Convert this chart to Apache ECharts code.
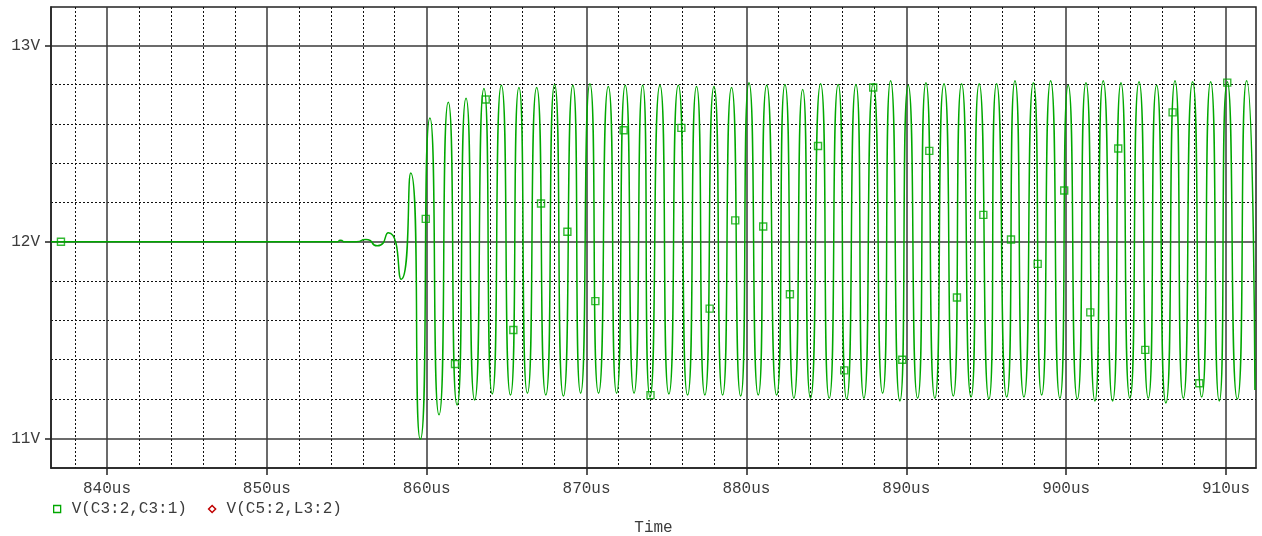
<!DOCTYPE html>
<html>
<head>
<meta charset="utf-8">
<title>V(C3:2,C3:1) transient</title>
<script src="https://cdn.jsdelivr.net/npm/echarts@6/dist/echarts.min.js"></script>
<style>
  html, body { margin: 0; padding: 0; background: #fff; }
  #chart { width: 1262px; height: 536px; }
</style>
</head>
<body>
<div id="chart"></div>
<script>
// time axis (us) and voltage axis (V)
const xTicks = [840, 850, 860, 870, 880, 890, 900, 910]
const yTicks = [11, 12, 13]

// V(C3:2,C3:1): peaks / troughs, [time us, volts]
const traceC3 = [
  [836.5, 12.0], [854.4, 12.0], [854.6, 12.008], [854.9, 12.0], [855.6, 12.0],
  [856.2, 12.012], [856.9, 11.98], [857.6, 12.046], [858.4, 11.81], [859.0, 12.35],
  [859.6, 10.995], [860.2, 12.63], [860.77, 11.12], [861.35, 12.71], [861.9, 11.17],
  [862.46, 12.73], [863.0, 11.195], [863.58, 12.78], [864.1, 11.226], [864.67, 12.797],
  [865.24, 11.22], [865.77, 12.785], [866.3, 11.23], [866.88, 12.785], [867.45, 11.22],
  [868.0, 12.8], [868.55, 11.215], [869.14, 12.797], [869.63, 11.23], [870.21, 12.805],
  [870.75, 11.23], [871.36, 12.79], [871.88, 11.23], [872.42, 12.797], [872.97, 11.23],
  [873.51, 12.797], [873.97, 11.21], [874.59, 12.797], [875.15, 11.226], [875.74, 12.797],
  [876.32, 11.22], [876.88, 12.79], [877.4, 11.22], [877.97, 12.79], [878.51, 11.22],
  [879.07, 12.785], [879.64, 11.215], [880.16, 12.81], [880.74, 11.22], [881.27, 12.797],
  [881.89, 11.22], [882.41, 12.8], [882.97, 11.204], [883.52, 12.775], [884.01, 11.204],
  [884.64, 12.805], [885.18, 11.204], [885.74, 12.8], [886.27, 11.2], [886.85, 12.8],
  [887.35, 11.204], [887.93, 12.805], [888.52, 11.23], [889.02, 12.82], [889.6, 11.19],
  [890.12, 12.797], [890.71, 11.204], [891.23, 12.81], [891.79, 11.204], [892.36, 12.805],
  [892.94, 11.215], [893.46, 12.805], [894.05, 11.21], [894.56, 12.805], [895.17, 11.2],
  [895.65, 12.805], [896.28, 11.21], [896.8, 12.82], [897.36, 11.21], [897.95, 12.81],
  [898.47, 11.22], [899.03, 12.82], [899.61, 11.204], [900.13, 12.797], [900.7, 11.2],
  [901.24, 12.81], [901.8, 11.19], [902.32, 12.82], [902.91, 11.19], [903.43, 12.81],
  [903.99, 11.204], [904.56, 12.815], [905.14, 11.204], [905.66, 12.797], [906.24, 11.18],
  [906.81, 12.82], [907.33, 11.204], [907.91, 12.815], [908.48, 11.21], [909.04, 12.815],
  [909.58, 11.19], [910.08, 12.815], [910.71, 11.2], [911.29, 12.82], [911.81, 11.246]
]

// square markers PSpice draws along the same trace
const markersC3 = [
  [837.12, 12.0], [859.94, 12.117], [861.77, 11.378], [863.69, 12.724], [865.42, 11.551],
  [867.15, 12.195], [868.8, 12.051], [870.55, 11.698], [872.32, 12.568], [874.0, 11.22],
  [875.93, 12.58], [877.7, 11.66], [879.3, 12.109], [881.05, 12.078], [882.72, 11.733],
  [884.48, 12.488], [886.12, 11.346], [887.93, 12.785], [889.75, 11.4], [891.44, 12.463],
  [893.17, 11.717], [894.82, 12.137], [896.55, 12.012], [898.22, 11.888], [899.88, 12.261],
  [901.51, 11.641], [903.26, 12.475], [904.95, 11.45], [906.66, 12.659], [908.33, 11.28],
  [910.08, 12.81]
]

// V(C5:2,L3:2) is off-scale here, only its legend entry shows
const traceC5 = []

const green = '#00a800'
const red = '#c00000'
const font = "'Liberation Mono', 'DejaVu Sans Mono', monospace"
const textColor = '#3c3c3c'
const fontSize = 16

const chart = echarts.init(document.getElementById('chart'))

chart.setOption({
  animation: false,
  backgroundColor: '#fff',
  grid: {
    left: 51, right: 6, top: 7, bottom: 68,
    outerBoundsMode: 'none',
    show: true,
    borderColor: '#222',
    borderWidth: 1.5,
    backgroundColor: 'transparent',
  },
  legend: {
    left: 48,
    top: 496,
    itemGap: 21,
    itemWidth: 19,
    itemHeight: 7,
    selectedMode: false,
    textStyle: { fontFamily: font, fontSize: fontSize, color: textColor },
    data: [
      {
        name: 'V(C3:2,C3:1)',
        icon: 'path://M0,0L10,0L10,10L0,10Z',
        itemStyle: { color: '#fff', borderColor: green, borderWidth: 1.3 },
      },
      {
        name: 'V(C5:2,L3:2)',
        icon: 'path://M5,0L10,5L5,10L0,5Z',
        itemStyle: { color: '#fff', borderColor: red, borderWidth: 1.5 },
      },
    ],
  },
  xAxis: {
    type: 'value',
    min: 836.497,
    max: 911.877,
    minInterval: 10,
    maxInterval: 10,
    name: 'Time',
    nameLocation: 'middle',
    nameGap: 52,
    nameTextStyle: { fontFamily: font, fontSize: fontSize, color: textColor },
    axisLine: { show: true, onZero: false, lineStyle: { color: '#222', width: 1.5 } },
    axisTick: { show: true, length: 7, customValues: xTicks, lineStyle: { color: '#222', width: 1.5 } },
    axisLabel: {
      customValues: xTicks,
      margin: 13,
      fontFamily: font,
      fontSize: fontSize,
      color: textColor,
      formatter: (v) => v + 'us',
    },
    splitLine: { show: true, lineStyle: { color: '#3a3a3a', width: 1.5 } },
    minorTick: { show: false, splitNumber: 5 },
    minorSplitLine: { show: true, lineStyle: { color: '#111', width: 1, type: [2, 2] } },
  },
  yAxis: {
    type: 'value',
    min: 10.849,
    max: 13.195,
    minInterval: 1,
    maxInterval: 1,
    axisLine: { show: true, onZero: false, lineStyle: { color: '#222', width: 1.5 } },
    axisTick: { show: true, length: 6, customValues: yTicks, lineStyle: { color: '#222', width: 1.5 } },
    axisLabel: {
      customValues: yTicks,
      margin: 11,
      fontFamily: font,
      fontSize: fontSize,
      color: textColor,
      formatter: (v) => v + 'V',
    },
    splitLine: { show: true, lineStyle: { color: '#3a3a3a', width: 1.5 } },
    minorTick: { show: false, splitNumber: 5 },
    minorSplitLine: { show: true, lineStyle: { color: '#111', width: 1, type: [2, 2] } },
  },
  series: [
    {
      name: 'V(C3:2,C3:1)',
      type: 'line',
      data: traceC3,
      showSymbol: false,
      smooth: 0.8,
      lineStyle: { color: green, width: 1.5 },
      itemStyle: { color: green },
      z: 3,
    },
    {
      name: 'V(C3:2,C3:1)',
      type: 'scatter',
      data: markersC3,
      symbol: 'rect',
      symbolSize: 7,
      itemStyle: { color: 'transparent', borderColor: green, borderWidth: 1.4 },
      z: 4,
    },
    {
      name: 'V(C5:2,L3:2)',
      type: 'line',
      data: traceC5,
      showSymbol: false,
      lineStyle: { color: red, width: 1.3 },
      itemStyle: { color: red },
    },
  ],
})
</script>
</body>
</html>
